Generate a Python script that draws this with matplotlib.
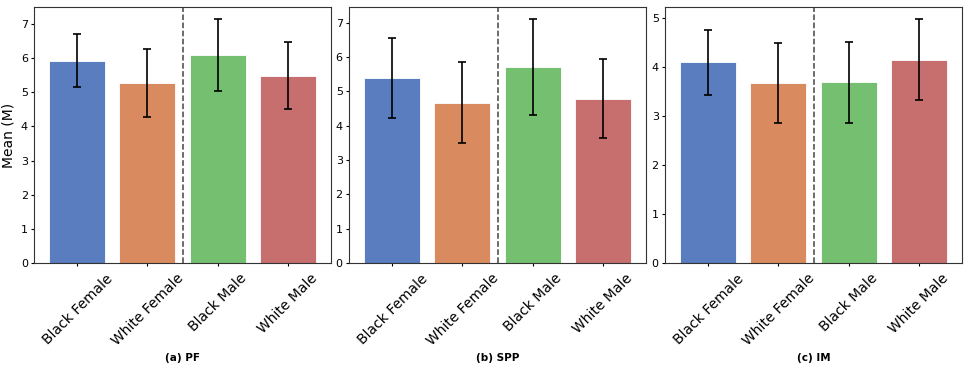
import matplotlib
matplotlib.use("Agg")
import matplotlib.pyplot as plt
import seaborn as sns
import numpy as np

GROUPS = ["Black Female", "White Female", "Black Male", "White Male"]
PANELS = ["(a) PF", "(b) SPP", "(c) IM"]

# means and standard deviations per panel
PF_MEAN = [5.93, 5.28, 6.09, 5.49]
PF_SD = [0.78, 1.00, 1.05, 0.98]
SPP_MEAN = [5.39, 4.66, 5.70, 4.79]
SPP_SD = [1.17, 1.18, 1.40, 1.14]
IM_MEAN = [4.10, 3.67, 3.69, 4.15]
IM_SD = [0.66, 0.82, 0.83, 0.83]

MEANS = [PF_MEAN, SPP_MEAN, IM_MEAN]
SDS = [PF_SD, SPP_SD, IM_SD]

colors = [sns.desaturate(c, 0.75) for c in sns.color_palette("muted", 4)]

fig = plt.figure(figsize=(9.69, 3.88), dpi=100)
lefts = [34, 349, 665]
width = 297
W, H = 969, 388
x = np.arange(len(GROUPS))

for i in range(3):
    ax = fig.add_axes([lefts[i] / W, 1 - 263 / H, width / W, (263 - 7) / H])
    ax.bar(x, MEANS[i], width=0.8, color=colors, edgecolor="white", linewidth=0.6)
    ax.errorbar(x, MEANS[i], yerr=SDS[i], fmt="none", ecolor="black",
                elinewidth=1.2, capsize=3, capthick=1.2)
    ax.axvline(1.5, color="#444444", ls="--", lw=1.1)
    ax.set_xlim(-0.62, 3.62)
    top = max(m + s for m, s in zip(MEANS[i], SDS[i]))
    ax.set_ylim(0, top * 1.05)
    ax.set_xticks(x)
    ax.set_xticklabels(GROUPS, rotation=45, ha="center", fontsize=10)
    ax.tick_params(axis="y", labelsize=8, length=2.5, pad=2)
    ax.tick_params(axis="x", length=2.5)
    for s in ax.spines.values():
        s.set_color("#333333")
        s.set_linewidth(0.8)
    if i == 0:
        ax.set_ylabel("Mean (M)", fontsize=10, labelpad=4)
    cx = (lefts[i] + width / 2) / W
    fig.text(cx, 1 - 358 / H, PANELS[i], ha="center", va="center",
             fontsize=7.5, fontweight="bold")

fig.savefig("out.png", dpi=100)
